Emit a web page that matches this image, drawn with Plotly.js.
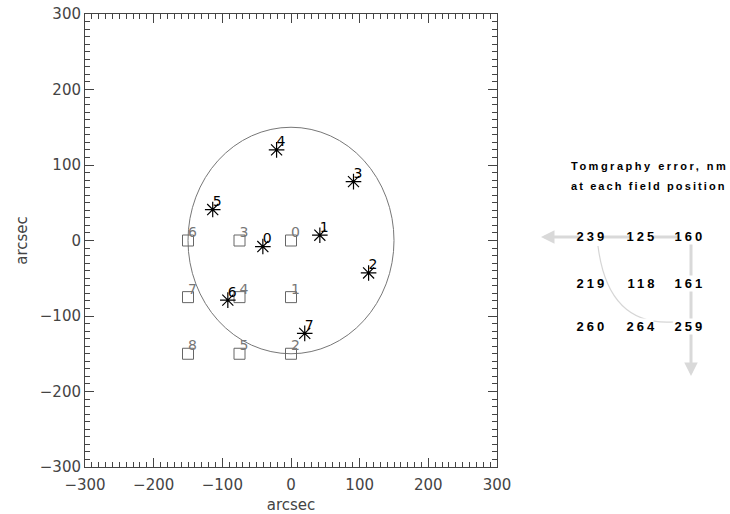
<!DOCTYPE html>
<html>
<head>
<meta charset="utf-8">
<script src="https://cdn.plot.ly/plotly-3.0.1.min.js"></script>
<style>
body { margin:0; padding:0; background:#fff; }
#chart { width:730px; height:514px; }
.annotation .annotation-text { letter-spacing: 3px; }
.annotation[data-index="2"] .annotation-text { letter-spacing: 2.5px; }
.annotation[data-index="3"] .annotation-text { letter-spacing: 2.1px; }
</style>
</head>
<body>
<div id="chart"></div>
<script>
// Field positions (squares) and their labels
const fieldX = [0, 0, 0, -75, -75, -75, -150, -150, -150];
const fieldY = [0, -75, -150, 0, -75, -150, 0, -75, -150];
const fieldLabels = ['0','1','2','3','4','5','6','7','8'];

// Guide stars (asterisks) and their labels
const starX = [-41, 42, 113, 91, -21, -114, -92, 20];
const starY = [-8, 7, -43, 78, 120, 41, -79, -123];
const starLabels = ['0','1','2','3','4','5','6','7'];

// Field-of-view circle radius
const fovRadius = 150;

// Tomography error table (nm)
const errorRows = [
  [239, 125, 160],
  [219, 118, 161],
  [260, 264, 259]
];
const panelTitle = ['Tomgraphy error, nm', 'at each field position'];

// plot geometry in pixels
const L = 85, R = 497, T = 14, B = 467;
const px = x => (x - L) / (R - L);
const py = y => (B - y) / (B - T);

const traces = [
  {
    x: fieldX, y: fieldY, mode: 'markers', type: 'scatter',
    marker: {symbol: 'square-open', size: 11, color: '#666', line: {width: 1, color: '#666'}},
    hoverinfo: 'skip', showlegend: false, cliponaxis: false
  },
  {
    x: fieldX, y: fieldY, mode: 'text', type: 'scatter', text: fieldLabels,
    textposition: 'top right',
    textfont: {family: 'DejaVu Sans', size: 14, color: '#777'},
    hoverinfo: 'skip', showlegend: false, cliponaxis: false
  },
  {
    x: starX, y: starY, mode: 'markers', type: 'scatter',
    marker: {symbol: 'asterisk-open', size: 13, color: '#000', line: {width: 1.2, color: '#000'}},
    hoverinfo: 'skip', showlegend: false, cliponaxis: false
  },
  {
    x: starX, y: starY, mode: 'text', type: 'scatter', text: starLabels,
    textposition: 'top right',
    textfont: {family: 'DejaVu Sans', size: 14, color: '#000'},
    hoverinfo: 'skip', showlegend: false, cliponaxis: false
  }
];

const arrowColor = '#d9d9d9';
const annotations = [];
// horizontal arrow (pointing left)
annotations.push({
  xref: 'paper', yref: 'paper', x: px(541), y: py(237), text: '',
  showarrow: true, ax: 691 - 541, ay: 0, arrowhead: 2, arrowsize: 0.9,
  arrowwidth: 3, arrowcolor: arrowColor
});
// vertical arrow (pointing down)
annotations.push({
  xref: 'paper', yref: 'paper', x: px(691), y: py(376), text: '',
  showarrow: true, ax: 0, ay: 236 - 376, arrowhead: 2, arrowsize: 0.9,
  arrowwidth: 3, arrowcolor: arrowColor
});
// panel title
panelTitle.forEach((t, i) => {
  annotations.push({
    xref: 'paper', yref: 'paper', x: px(569), y: py(166 + i * 20),
    xanchor: 'left', yanchor: 'middle', align: 'left',
    text: '<b>' + t + '</b>', showarrow: false,
    font: {family: 'Liberation Sans, Arial', size: 11, color: '#000'}
  });
});
// error numbers
const colX = [592, 642, 690];
const rowY = [237, 284, 326];
errorRows.forEach((row, r) => {
  row.forEach((v, c) => {
    annotations.push({
      xref: 'paper', yref: 'paper', x: px(colX[c]), y: py(rowY[r]),
      xanchor: 'center', yanchor: 'middle', text: '<b>' + v + '</b>', showarrow: false,
      bgcolor: '#fff', borderpad: 0,
      font: {family: 'Liberation Sans, Arial', size: 13, color: '#000'}
    });
  });
});

const curvePath = 'M' + px(598) + ',' + py(246) +
  ' Q' + px(608) + ',' + py(326) + ' ' + px(673) + ',' + py(322);

const shapes = [
  {type: 'circle', xref: 'x', yref: 'y', x0: -fovRadius, x1: fovRadius, y0: -fovRadius, y1: fovRadius,
   line: {color: '#777', width: 1}, layer: 'below'},
  {type: 'path', xref: 'paper', yref: 'paper', path: curvePath,
   line: {color: '#d6d6d6', width: 1.2}, layer: 'below'}
];

const axisCommon = {
  range: [-300, 300], dtick: 100, tick0: 0,
  ticks: 'inside', ticklen: 9, tickwidth: 1, tickcolor: '#444',
  minor: {dtick: 10, ticks: 'inside', ticklen: 5, tickwidth: 1, tickcolor: '#444', showgrid: false},
  showline: true, linecolor: '#444', linewidth: 1, mirror: 'ticks',
  showgrid: false, zeroline: false, fixedrange: true,
  tickfont: {family: 'DejaVu Sans', size: 15, color: '#444'}
};

const layout = {
  width: 730, height: 514,
  margin: {l: L, r: 730 - R, t: T, b: 514 - B, pad: 0},
  paper_bgcolor: '#fff', plot_bgcolor: '#fff',
  showlegend: false,
  xaxis: Object.assign({}, axisCommon, {
    ticklabelstandoff: 4,
    title: {text: 'arcsec', font: {family: 'DejaVu Sans', size: 15, color: '#444'}, standoff: 6}
  }),
  yaxis: Object.assign({}, axisCommon, {
    title: {text: 'arcsec', font: {family: 'DejaVu Sans', size: 15, color: '#444'}, standoff: 8}
  }),
  shapes: shapes,
  annotations: annotations
};

Plotly.newPlot('chart', traces, layout, {staticPlot: true, displayModeBar: false});
</script>
</body>
</html>
